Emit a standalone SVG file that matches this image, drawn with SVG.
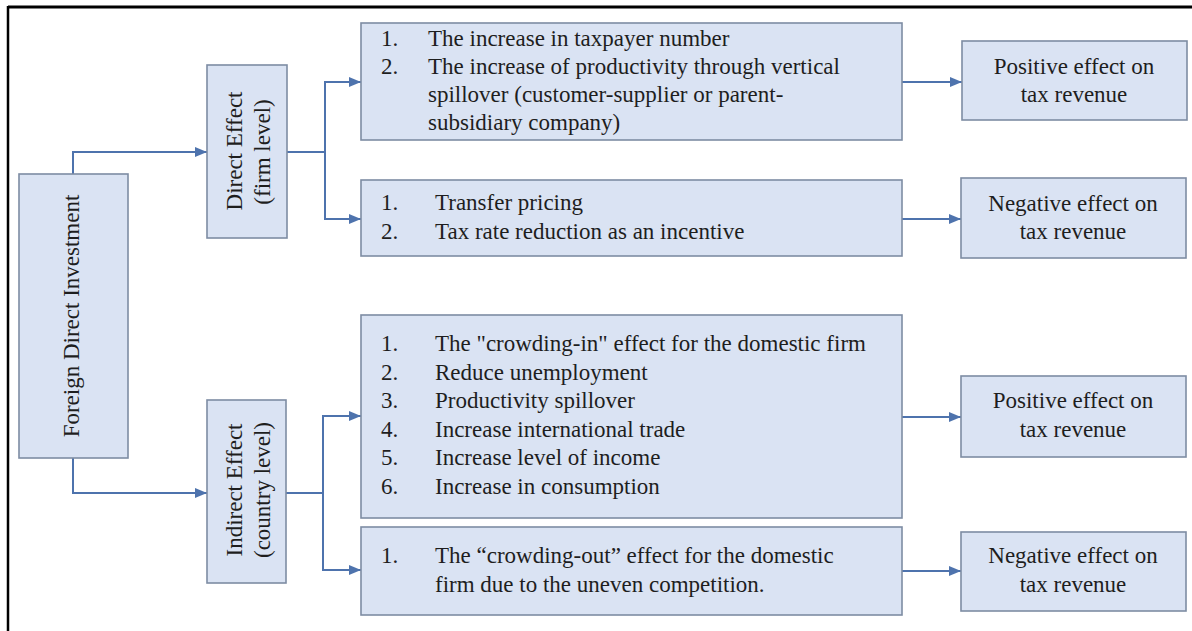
<svg xmlns="http://www.w3.org/2000/svg" width="1192" height="631" viewBox="0 0 1192 631">
<style>
.box{fill:#dae3f3;stroke:#7d8ca3;stroke-width:1.6}
.t{font-family:"Liberation Serif","Times New Roman",serif;font-size:23px;fill:#1e1e1e}
.c{text-anchor:middle}
.con{fill:none;stroke:#4e73ad;stroke-width:2}
.frame{stroke:#000;fill:none}
</style>
<defs>
<marker id="arr" markerUnits="userSpaceOnUse" markerWidth="12" markerHeight="10" refX="12" refY="5" orient="auto">
<path d="M0,0 L12,5 L0,10 z" fill="#4e73ad"/>
</marker>
</defs>
<rect width="1192" height="631" fill="#fff"/>
<g id="frame">
<line class="frame" x1="8" y1="7" x2="1192" y2="7" stroke-width="3"/>
<line class="frame" x1="8" y1="6" x2="8" y2="631" stroke-width="2.5"/>
</g>
<g id="connectors">
<path class="con" d="M73,174 V152 H207" marker-end="url(#arr)"/>
<path class="con" d="M73,458 V493 H207" marker-end="url(#arr)"/>
<path class="con" d="M287,152 H325 V82 H361" marker-end="url(#arr)"/>
<path class="con" d="M325,152 V219 H361" marker-end="url(#arr)"/>
<path class="con" d="M286,493 H323 V416 H361" marker-end="url(#arr)"/>
<path class="con" d="M323,493 V570 H361" marker-end="url(#arr)"/>
<path class="con" d="M902,82 H962" marker-end="url(#arr)"/>
<path class="con" d="M902,219 H961" marker-end="url(#arr)"/>
<path class="con" d="M902,417 H961" marker-end="url(#arr)"/>
<path class="con" d="M902,571 H961" marker-end="url(#arr)"/>
</g>
<g id="fdi">
<rect class="box" x="19" y="174" width="109" height="284"/>
<text class="t c" transform="translate(79,316) rotate(-90)">Foreign Direct Investment</text>
</g>
<g id="direct">
<rect class="box" x="207" y="65" width="80" height="173"/>
<text class="t c" transform="translate(242,151) rotate(-90)">Direct Effect</text>
<text class="t c" transform="translate(270,152) rotate(-90)">(firm level)</text>
</g>
<g id="indirect">
<rect class="box" x="207" y="400" width="79" height="183"/>
<text class="t c" transform="translate(242,490) rotate(-90)">Indirect Effect</text>
<text class="t c" transform="translate(270,490) rotate(-90)">(country level)</text>
</g>
<g id="direct-positive-list">
<rect class="box" x="361" y="23" width="541" height="117"/>
<text class="t" x="381" y="46">1.</text>
<text class="t" x="381" y="74">2.</text>
<text class="t" x="428" y="46">The increase in taxpayer number</text>
<text class="t" x="428" y="74">The increase of productivity through vertical</text>
<text class="t" x="428" y="102">spillover (customer-supplier or parent-</text>
<text class="t" x="428" y="130">subsidiary company)</text>
</g>
<g id="direct-negative-list">
<rect class="box" x="361" y="180" width="541" height="76"/>
<text class="t" x="381" y="210">1.</text>
<text class="t" x="381" y="239">2.</text>
<text class="t" x="435" y="210">Transfer pricing</text>
<text class="t" x="435" y="239">Tax rate reduction as an incentive</text>
</g>
<g id="indirect-positive-list">
<rect class="box" x="361" y="315" width="541" height="203"/>
<text class="t" x="381" y="351">1.</text>
<text class="t" x="381" y="379.5">2.</text>
<text class="t" x="381" y="408">3.</text>
<text class="t" x="381" y="436.5">4.</text>
<text class="t" x="381" y="465">5.</text>
<text class="t" x="381" y="493.5">6.</text>
<text class="t" x="435" y="351">The "crowding-in" effect for the domestic firm</text>
<text class="t" x="435" y="379.5">Reduce unemployment</text>
<text class="t" x="435" y="408">Productivity spillover</text>
<text class="t" x="435" y="436.5">Increase international trade</text>
<text class="t" x="435" y="465">Increase level of income</text>
<text class="t" x="435" y="493.5">Increase in consumption</text>
</g>
<g id="indirect-negative-list">
<rect class="box" x="361" y="527" width="541" height="88"/>
<text class="t" x="381" y="563">1.</text>
<text class="t" x="435" y="563">The “crowding-out” effect for the domestic</text>
<text class="t" x="435" y="592">firm due to the uneven competition.</text>
</g>
<g id="positive-1">
<rect class="box" x="962" y="41" width="225" height="79"/>
<text class="t c" x="1074" y="74">Positive effect on</text>
<text class="t c" x="1074" y="102">tax revenue</text>
</g>
<g id="negative-1">
<rect class="box" x="961" y="178" width="225" height="80"/>
<text class="t c" x="1073" y="211">Negative effect on</text>
<text class="t c" x="1073" y="239">tax revenue</text>
</g>
<g id="positive-2">
<rect class="box" x="961" y="376" width="225" height="81"/>
<text class="t c" x="1073" y="408">Positive effect on</text>
<text class="t c" x="1073" y="437">tax revenue</text>
</g>
<g id="negative-2">
<rect class="box" x="961" y="532" width="225" height="79"/>
<text class="t c" x="1073" y="563">Negative effect on</text>
<text class="t c" x="1073" y="592">tax revenue</text>
</g>
</svg>
